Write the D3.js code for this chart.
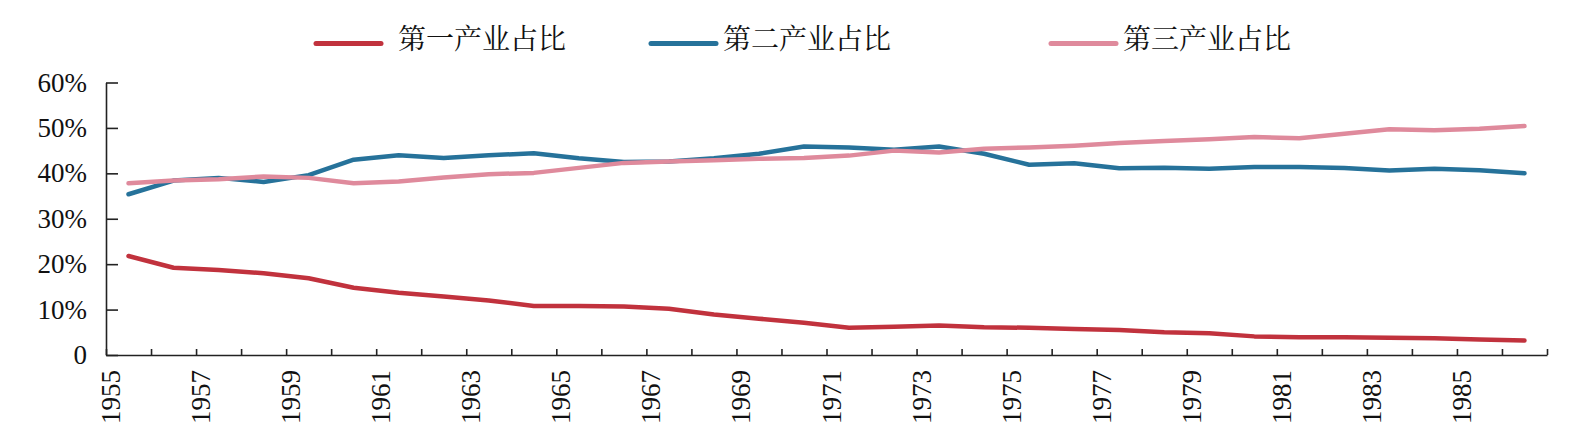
<html>
<head>
<meta charset="utf-8">
<script src="https://d3js.org/d3.v7.min.js"></script>
<style>
body { margin: 0; background: #fff; }
.axis text { font-family: "Liberation Serif", "Times New Roman", serif; font-size: 27px; fill: #111; }
.axis path, .axis line { stroke: #222; stroke-width: 1.6; }
.legend text { font-family: "Noto Serif CJK SC", "Noto Sans CJK SC", sans-serif; font-size: 28px; fill: #111; }
</style>
</head>
<body>
<svg width="1586" height="447"></svg>
<script>

// years (one point per year)
var years = d3.range(1955, 1987)

var primary = [21.8,19.2,18.7,18.0,16.9,14.8,13.7,12.9,12.0,10.8,
               10.8,10.7,10.2,8.9,8.0,7.1,6.0,6.2,6.5,6.1,
               6.0,5.7,5.5,5.0,4.8,4.1,3.9,3.9,3.8,3.7,
               3.4,3.2]
var secondary = [35.4,38.4,39.0,38.1,39.6,43.0,44.0,43.4,44.0,44.4,
                 43.3,42.5,42.6,43.3,44.3,45.9,45.7,45.2,45.9,44.3,
                 41.9,42.2,41.1,41.25,41.0,41.4,41.4,41.2,40.6,41.0,
                 40.7,40.0]
var tertiary = [37.8,38.4,38.7,39.3,39.0,37.8,38.2,39.1,39.8,40.1,
                41.2,42.3,42.6,42.9,43.2,43.4,43.9,45.0,44.6,45.4,
                45.7,46.1,46.7,47.1,47.5,48.0,47.7,48.7,49.7,49.5,
                49.8,50.4]

var seriesNames = ["第一产业占比", "第二产业占比", "第三产业占比"]
var colors = ["#c1323d", "#26729a", "#df8a9c"]
var yTicks = [0, 10, 20, 30, 40, 50, 60]

var svg = d3.select("svg")

var x = d3.scaleLinear().domain([1955, 1987]).range([106, 1547])
var y = d3.scaleLinear().domain([0, 60]).range([355, 82.5])

// x axis - ticks at year boundaries, labels on odd years
svg.append("g")
	.attr("class", "axis")
	.attr("transform", "translate(0," + y(0) + ")")
	.call(d3.axisBottom(x)
		.tickValues(d3.range(1955, 1988))
		.tickSize(-6)
		.tickSizeOuter(0)
		.tickFormat(function(d) { return (d % 2 == 1 && d <= 1985) ? d : "" }))
	.selectAll("text")
	.attr("transform", "rotate(-90)")
	.attr("x", -15)
	.attr("y", 0)
	.attr("dy", "0.5em")
	.style("text-anchor", "end")

// y axis
svg.append("g")
	.attr("class", "axis")
	.attr("transform", "translate(" + x(1955) + ",0)")
	.call(d3.axisLeft(y)
		.tickValues(yTicks)
		.tickSize(-12)
		.tickSizeOuter(0)
		.tickPadding(19)
		.tickFormat(function(d) { return d == 0 ? "0" : d + "%" }))

// lines
var line = d3.line()
	.x(function(d, i) { return x(years[i] + 0.5) })
	.y(function(d) { return y(d) })

var allSeries = [primary, secondary, tertiary]
allSeries.forEach(function(s, k) {
	svg.append("path")
		.datum(s)
		.attr("d", line)
		.style("fill", "none")
		.style("stroke", colors[k])
		.style("stroke-width", 4.5)
		.style("stroke-linejoin", "round")
		.style("stroke-linecap", "round")
})

// legend
var legendX = [316, 651, 1051]
var legend = svg.append("g").attr("class", "legend")
seriesNames.forEach(function(name, k) {
	legend.append("line")
		.attr("x1", legendX[k]).attr("x2", legendX[k] + 65)
		.attr("y1", 43.5).attr("y2", 43.5)
		.style("stroke", colors[k])
		.style("stroke-width", 5)
		.style("stroke-linecap", "round")
	legend.append("text")
		.attr("x", legendX[k] + (k == 0 ? 82 : 72))
		.attr("y", 42)
		.attr("dominant-baseline", "middle")
		.text(name)
})

</script>
</body>
</html>
